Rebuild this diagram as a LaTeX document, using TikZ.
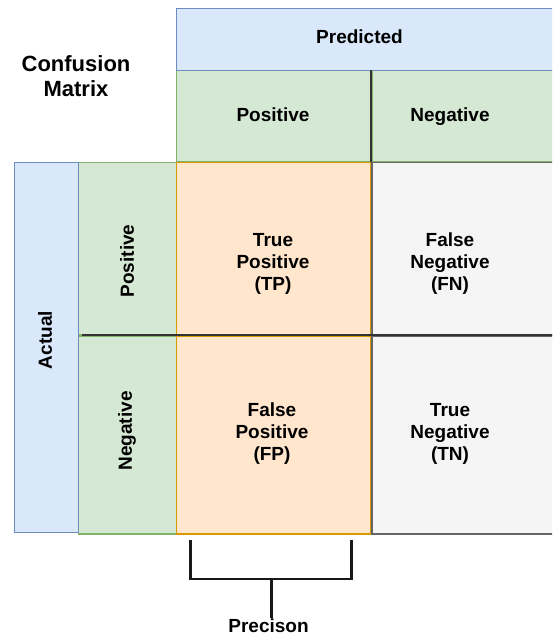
\documentclass[tikz,border=0pt]{standalone}
\usepackage{fontspec}
\setmainfont{Liberation Sans}
\usetikzlibrary{positioning}

\definecolor{blueFill}{HTML}{DAE8FC}
\definecolor{blueLine}{HTML}{6C8EBF}
\definecolor{greenFill}{HTML}{D5E8D4}
\definecolor{greenLine}{HTML}{82B366}
\definecolor{orangeFill}{HTML}{FFE6CC}
\definecolor{orangeLine}{HTML}{D79B00}
\definecolor{grayFill}{HTML}{F5F5F5}
\definecolor{grayLine}{HTML}{666666}
\definecolor{darkLine}{HTML}{333333}

\begin{document}
\begin{tikzpicture}[x=1pt,y=-1pt,
  every node/.style={font=\fontsize{19}{22}\selectfont\bfseries, align=center},
  cell/.style 2 args={draw, line width=1.3pt, anchor=north west, inner sep=0pt,
    minimum width=#1pt, minimum height=#2pt},
  bluecell/.style={fill=blueFill, draw=blueLine},
  greencell/.style={fill=greenFill, draw=greenLine},
  orangecell/.style={fill=orangeFill, draw=orangeLine},
  graycell/.style={fill=grayFill, draw=grayLine},
  txt/.style={inner sep=0.5pt},
  divider/.style={draw=darkLine, line width=2pt},
  bracket/.style={draw=black!90, line width=2.7pt}]
  \clip (0,0) rectangle (552,636);

  % header cells
  \node[cell={194}{91}, greencell] (poshead) at (176,70) {};
  \node[cell={190}{91}, greencell] (neghead) at (poshead.north east) {};
  \node[cell={384}{62}, bluecell] (pred) at (176,8) {};

  % row labels
  \node[cell={98}{172}, greencell] (posrow) at (78,162) {};
  \node[cell={98}{198}, greencell] (negrow) at (posrow.south west) {};
  \node[cell={64}{370}, bluecell] (actual) at (14,162) {};

  % matrix cells
  \node[cell={194}{172}, orangecell] (tp) at (176,162) {};
  \node[cell={194}{198}, orangecell] (fp) at (tp.south west) {};
  \node[cell={190}{172}, graycell] (fn) at (tp.north east) {};
  \node[cell={190}{198}, graycell] (tn) at (fp.north east) {};

  \draw[divider] (neghead.north west) -- (neghead.south west);
  \draw[divider] ([xshift=4pt]negrow.north west) -- (tn.north east);

  % texts
  \node[txt, font=\fontsize{22}{25.5}\selectfont\bfseries] (title) at (76,76) {Confusion\\Matrix};
  \node[txt, anchor=base] (predtxt) at (359.5,44) {Predicted};
  \node[txt, anchor=base] (posheadtxt) at (273,122) {Positive};
  \node[txt, anchor=base] (negheadtxt) at (450,122) {Negative};
  \node[txt, rotate=90] (actualtxt) at (45,340) {Actual};
  \node[txt, rotate=90] (posrowtxt) at (127,261) {Positive};
  \node[txt, rotate=90] (negrowtxt) at (127,431) {Negative};
  \node[txt] (tptxt) at (273,264) {True\\Positive\\(TP)};
  \node[txt] (fntxt) at (450,264) {False\\Negative\\(FN)};
  \node[txt] (fptxt) at (272,434) {False\\Positive\\(FP)};
  \node[txt] (tntxt) at (450,434) {True\\Negative\\(TN)};

  % precision bracket
  \node[txt, anchor=base] (prec) at (268.5,632) {Precison};
  \coordinate (brl) at (190.7,540);
  \coordinate (brr) at (351.7,540);
  \coordinate (brm) at (271.5,579);
  \draw[bracket] (brl) |- (brm) -| (brr);
  \draw[bracket] (brm) -- (brm |- prec.north);
\end{tikzpicture}
\end{document}
